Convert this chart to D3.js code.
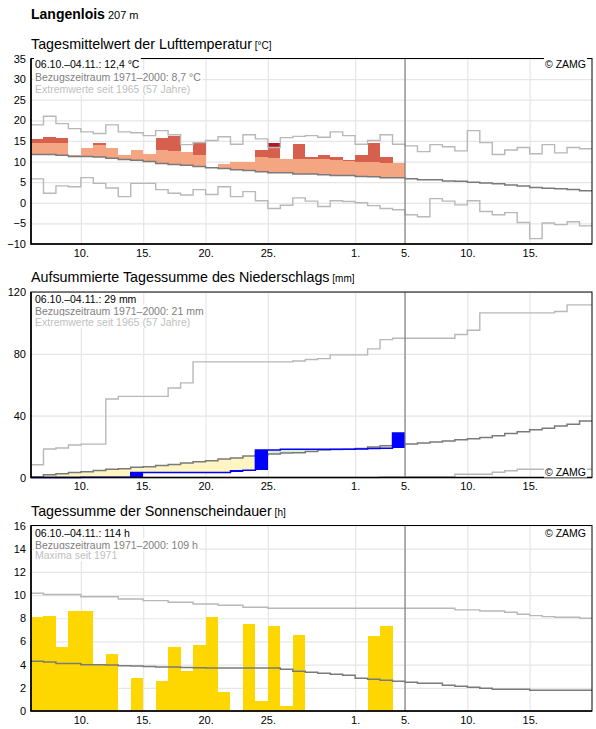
<!DOCTYPE html>
<html>
<head>
<meta charset="utf-8">
<script src="https://cdn.jsdelivr.net/npm/d3@7"></script>
<style>
	body { margin: 0; background: #fff; }
	svg { display: block; font-family: "Liberation Sans", Arial, sans-serif; }
</style>
</head>
<body>
<svg id="svg" width="596" height="729"></svg>
<script>
const $svg = d3.select('#svg')

// --- data (6.10.2021 - 19.11.2021, one value per day) ---
const station = 'Langenlois'
const altitude = '207 m'
const firstDay = '2021-10-06'
const endDay = '2021-11-20'
const markDay = '2021-11-05'
const tickDays = ['2021-10-10', '2021-10-15', '2021-10-20', '2021-10-25', '2021-11-01', '2021-11-05', '2021-11-10', '2021-11-15']

// Lufttemperatur (°C)
const tempObs = [15.4, 15.9, 15.6, 11.6, 13.2, 14.4, 13.4, 11.5, 12.7, 11.8, 15.6, 16.2, 12.2, 14.4, 8.5, 9.3, 9.8, 10.0, 12.9, 14.4, 10.5, 14.2, 11.0, 11.7, 11.0, 10.3, 11.5, 14.4, 11.0, 9.55]
const tempUpper = [14.6, 14.4, 14.4, 14.2, 14.1, 13.9, 13.7, 13.5, 13.2, 13.0, 12.7, 12.5, 12.3, 11.7, 11.6, 11.5, 11.4, 11.2, 11.0, 10.8, 10.6, 10.5, 10.5, 10.5, 10.3, 10.1, 10.0, 9.8, 9.55, 9.6]
const tempMean = [11.7, 11.7, 11.5, 11.25, 11.2, 11.1, 10.8, 10.5, 10.3, 10.0, 9.55, 9.3, 9.1, 8.8, 8.5, 8.3, 8.0, 7.8, 7.5, 7.3, 7.3, 7.0, 7.0, 6.8, 6.6, 6.6, 6.4, 6.3, 6.1, 6.1, 5.8, 5.6, 5.6, 5.3, 5.2, 5.0, 4.8, 4.6, 4.3, 4.05, 3.7, 3.5, 3.4, 3.2, 2.9]
const tempMax = [18.9, 21.0, 19.2, 18.0, 17.2, 16.8, 18.9, 17.2, 17.0, 16.3, 17.5, 16.5, 14.1, 14.6, 15.1, 16.0, 14.2, 16.5, 15.5, 13.4, 15.8, 16.1, 16.3, 15.9, 17.2, 16.3, 14.2, 15.1, 16.5, 14.2, 13.8, 12.4, 14.1, 13.6, 12.6, 17.5, 14.6, 11.7, 12.8, 13.4, 11.9, 14.1, 12.1, 13.4, 13.1]
const tempMin = [5.8, 2.3, 4.1, 3.9, 6.1, 4.7, 3.6, 1.5, 4.7, 4.7, 3.2, 2.3, 1.9, 3.2, 2.0, 3.9, 1.5, 2.7, 0.5, -1.4, -0.6, 1.2, 0.4, -0.9, 0.5, 0.3, 0.0, -0.7, -1.4, -1.7, -2.9, -3.4, 1.0, 0.4, -0.5, 0.5, -2.1, -2.9, -2.4, -4.8, -8.7, -4.9, -5.3, -4.6, -5.6]
const tempTicks = [-10, -5, 0, 5, 10, 15, 20, 25, 30, 35]
const tempText = ['06.10.–04.11.: 12,4 °C', 'Bezugszeitraum 1971–2000: 8,7 °C', 'Extremwerte seit 1965 (57 Jahre)']

// Niederschlag, aufsummiert (mm)
const precObs = [0, 0, 0, 0, 0.2, 0.2, 0.2, 0.2, 3.3, 3.3, 3.3, 3.3, 3.3, 3.3, 3.3, 3.3, 4.3, 4.7, 17.8, 17.8, 18.3, 18.3, 18.3, 18.3, 18.3, 18.3, 18.5, 18.8, 19.0, 28.8]
const precMean = [0.3, 1.7, 2.4, 3.2, 3.7, 4.5, 5.4, 5.6, 6.7, 7.0, 7.8, 8.4, 9.3, 10.2, 10.8, 11.9, 12.6, 13.9, 14.5, 15.2, 15.8, 16.0, 16.8, 17.8, 18.1, 18.2, 18.8, 19.7, 20.5, 21.2, 21.6, 22.3, 22.9, 23.6, 24.4, 25.1, 25.9, 27.0, 28.5, 29.6, 30.9, 31.8, 33.3, 34.4, 36.5]
const precMax = [8.2, 18.4, 19.1, 21.0, 21.6, 21.6, 50.8, 52.5, 52.5, 52.5, 52.5, 57.9, 61.2, 74.8, 74.8, 74.8, 74.8, 74.8, 74.8, 74.8, 74.8, 75.4, 76.3, 76.9, 79.3, 79.3, 79.3, 83.2, 89.2, 90.1, 90.1, 90.1, 90.1, 90.1, 92.5, 95.3, 106.5, 106.5, 106.5, 106.5, 106.5, 106.5, 107.4, 111.7, 111.7]
const precMin = [0, 0, 0, 0, 0, 0, 0, 0, 0, 0, 0, 0, 0, 0, 0, 0, 0, 0, 0, 0, 0, 0, 0, 0, 0, 0, 0, 0, 0.5, 0.5, 0.5, 0.5, 0.5, 0.5, 2.1, 2.1, 2.1, 3.4, 4.4, 5.3, 5.3, 5.3, 5.3, 5.3, 5.3]
const precTicks = [0, 40, 80, 120]
const precText = ['06.10.–04.11.: 29 mm', 'Bezugszeitraum 1971–2000: 21 mm', 'Extremwerte seit 1965 (57 Jahre)']

// Sonnenscheindauer (h)
const sunObs = [8.07, 8.2, 5.5, 8.6, 8.6, 4.0, 4.95, 0, 2.85, 0, 2.6, 5.5, 3.45, 5.65, 8.07, 1.6, 0, 7.5, 0.87, 7.35, 0.43, 6.57, 0, 0, 0, 0, 0, 6.5, 7.35, 0]
const sunMean = [4.3, 4.22, 4.1, 4.1, 4.0, 4.0, 3.97, 3.9, 3.88, 3.83, 3.8, 3.8, 3.75, 3.72, 3.7, 3.7, 3.7, 3.7, 3.7, 3.7, 3.6, 3.43, 3.35, 3.26, 3.17, 3.08, 2.83, 2.74, 2.66, 2.57, 2.48, 2.4, 2.4, 2.22, 2.14, 2.05, 1.96, 1.88, 1.88, 1.88, 1.79, 1.79, 1.79, 1.79, 1.79]
const sunMax = [10.15, 10.05, 10.05, 10.05, 9.86, 9.86, 9.86, 9.66, 9.66, 9.52, 9.52, 9.38, 9.38, 9.23, 9.23, 9.12, 9.12, 8.95, 8.95, 8.86, 8.86, 8.86, 8.86, 8.86, 8.86, 8.86, 8.86, 8.86, 8.86, 8.86, 8.86, 8.86, 8.86, 8.86, 8.72, 8.72, 8.63, 8.63, 8.52, 8.35, 8.23, 8.14, 8.09, 8.09, 8.0]
const sunTicks = [0, 2, 4, 6, 8, 10, 12, 14, 16]
const sunText = ['06.10.–04.11.: 114 h', 'Bezugszeitraum 1971–2000: 109 h', 'Maxima seit 1971']

// --- layout ---
const left = 31
const right = 592
const panelHeight = 185.5
const parseDay = d3.utcParse('%Y-%m-%d')
const days = d3.utcDay.range(parseDay(firstDay), parseDay(endDay))
const x = d3.scaleUtc()
	.domain([parseDay(firstDay), parseDay(endDay)])
	.range([left, right])
const dayEnd = i => d3.utcDay.offset(days[i], 1)

const stepPath = (values, y) => {
	const pts = values.map((v, i) => [days[i], v])
	pts.push([dayEnd(values.length - 1), values[values.length - 1]])
	return d3.line()
		.x(d => x(d[0]))
		.y(d => y(d[1]))
		.curve(d3.curveStepAfter)(pts)
}

const addText = (g, tx, ty, str, { size = 10.5, color = '#000', anchor = 'start', weight = 'normal', box = false } = {}) => {
	const t = g.append('text')
		.attr('x', tx)
		.attr('y', ty)
		.attr('font-size', size)
		.attr('font-weight', weight)
		.attr('fill', color)
		.attr('text-anchor', anchor)
		.text(str)
	if (box) {
		const bb = t.node().getBBox()
		g.insert('rect', () => t.node())
			.attr('x', bb.x - 1).attr('y', bb.y)
			.attr('width', bb.width + 2).attr('height', bb.height)
			.attr('fill', '#fff')
	}
	return t
}

const panel = ({ top, domain, ticks, title, unit, text, textOffsets, zamgBottom }) => {
	const g = $svg.append('g')
	const bottom = top + panelHeight
	const y = d3.scaleLinear().domain(domain).range([bottom, top])

	// title
	const t = addText(g, left, top - 10, title, { size: 14.3 })
	t.append('tspan').attr('font-size', 10).text(' ' + unit)

	// grid + labels
	const xAxis = g.append('g')
		.attr('transform', `translate(0,${bottom})`)
		.call(d3.axisBottom(x)
			.tickValues(tickDays.map(parseDay))
			.tickSize(-panelHeight)
			.tickPadding(5)
			.tickFormat(d3.utcFormat('%-d.')))
	const yAxis = g.append('g')
		.attr('transform', `translate(${left},0)`)
		.call(d3.axisLeft(y)
			.tickValues(ticks)
			.tickSize(-(right - left))
			.tickPadding(5))
	;[xAxis, yAxis].forEach(a => {
		a.select('.domain').remove()
		a.attr('font-family', null).attr('font-size', 11)
		a.selectAll('line').attr('stroke', '#e6e6e6').attr('stroke-width', 1.2)
		a.selectAll('text').attr('fill', '#000')
	})

	const plot = g.append('g')
	const over = g.append('g')

	// separator at the last data day
	over.append('line')
		.attr('x1', x(parseDay(markDay))).attr('x2', x(parseDay(markDay)))
		.attr('y1', top).attr('y2', bottom)
		.attr('stroke', '#808080').attr('stroke-width', 1.2)

	// frame
	over.append('rect')
		.attr('x', left).attr('y', top)
		.attr('width', right - left).attr('height', panelHeight)
		.attr('fill', 'none').attr('stroke', '#000').attr('stroke-width', 1)
	over.append('path')
		.attr('d', `M${left},${top}V${bottom}H${right}`)
		.attr('fill', 'none').attr('stroke', '#000').attr('stroke-width', 1.6)

	// legend text
	const colors = ['#000', '#808080', '#c0c0c0']
	text.forEach((s, i) => addText(over, left + 4, top + textOffsets[i], s, { color: colors[i], box: true }))
	addText(over, right - 6, zamgBottom ? bottom - 2 : top + textOffsets[0], '© ZAMG', { anchor: 'end', box: true })

	return { plot, y }
}

const rect = (g, i, lo, hi, y, color) => {
	if (hi <= lo) return
	g.append('rect')
		.attr('x', x(days[i]))
		.attr('width', x(dayEnd(i)) - x(days[i]))
		.attr('y', y(hi))
		.attr('height', y(lo) - y(hi))
		.attr('fill', color)
		.attr('shape-rendering', 'crispEdges')
}

const line = (g, values, y, color, width) => {
	g.append('path')
		.attr('d', stepPath(values, y))
		.attr('fill', 'none')
		.attr('stroke', color)
		.attr('stroke-width', width)
}

// header
addText($svg, left, 18.5, station, { size: 14, weight: 'bold' })
	.append('tspan').attr('font-size', 11).attr('font-weight', 'normal').text(' ' + altitude)

// --- Lufttemperatur ---
const temp = panel({ top: 58.5, domain: [-10, 35], ticks: tempTicks, title: 'Tagesmittelwert der Lufttemperatur', unit: '[°C]', text: tempText, textOffsets: [9.5, 22, 34.5] })
tempObs.forEach((v, i) => {
	const m = tempMean[i]
	if (v <= m) return
	rect(temp.plot, i, m, Math.min(v, tempUpper[i]), temp.y, '#f4a582')
	rect(temp.plot, i, tempUpper[i], Math.min(v, tempMax[i]), temp.y, '#d6604d')
	rect(temp.plot, i, Math.max(tempMax[i], tempUpper[i]), v, temp.y, '#b2182b')
})
line(temp.plot, tempMax, temp.y, '#b8b8b8', 1.4)
line(temp.plot, tempMin, temp.y, '#b8b8b8', 1.4)
line(temp.plot, tempMean, temp.y, '#7a7a7a', 1.5)

// --- Niederschlag ---
const prec = panel({ top: 292, domain: [0, 120], ticks: precTicks, title: 'Aufsummierte Tagessumme des Niederschlags', unit: '[mm]', text: precText, textOffsets: [11, 22.5, 34], zamgBottom: true })
precObs.forEach((v, i) => {
	const m = precMean[i]
	rect(prec.plot, i, Math.min(v, m), Math.max(v, m), prec.y, v < m ? '#fff5c2' : '#dcefd6')
})
line(prec.plot, precMax, prec.y, '#b8b8b8', 1.4)
line(prec.plot, precMin, prec.y, '#b8b8b8', 1.4)
line(prec.plot, precMean, prec.y, '#7a7a7a', 1.5)
line(prec.plot, precObs, prec.y, '#0000ff', 1.5)
precObs.forEach((v, i) => {
	const prev = i ? precObs[i - 1] : 0
	rect(prec.plot, i, prev, v, prec.y, '#0000ff')
})

// --- Sonnenschein ---
const sun = panel({ top: 525.5, domain: [0, 16], ticks: sunTicks, title: 'Tagessumme der Sonnenscheindauer', unit: '[h]', text: sunText, textOffsets: [11.5, 23, 33.5] })
sunObs.forEach((v, i) => rect(sun.plot, i, 0, v, sun.y, '#ffd700'))
line(sun.plot, sunMax, sun.y, '#b8b8b8', 1.4)
line(sun.plot, sunMean, sun.y, '#7a7a7a', 1.5)
</script>
</body>
</html>
